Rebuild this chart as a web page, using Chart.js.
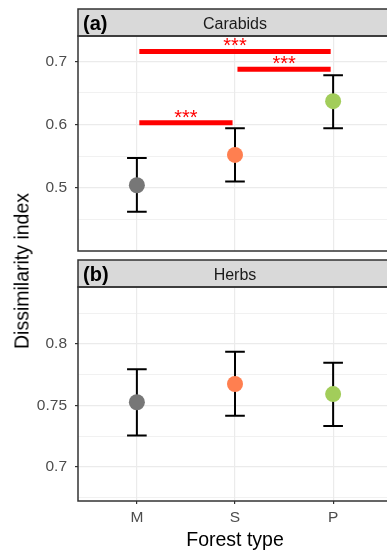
<!DOCTYPE html>
<html>
<head>
<meta charset="utf-8">
<script src="https://cdn.jsdelivr.net/npm/chart.js@4.4.1/dist/chart.umd.min.js"></script>
<style>
  body { margin: 0; background: #fff; overflow: hidden; }
  #wrap { position: relative; width: 400px; height: 550px; }
  .panel { position: absolute; left: 0; width: 400px; }
  #ytitle {
    position: absolute; left: 22px; top: 271px; white-space: nowrap;
    font: 19.5px "Liberation Sans", Arial, sans-serif; color: #000;
    transform: translate(-50%, -50%) rotate(-90deg);
  }
</style>
</head>
<body>
<div id="wrap">
  <div class="panel" style="top:0;height:255px"><canvas id="carabids"></canvas></div>
  <div class="panel" style="top:255px;height:295px"><canvas id="herbs"></canvas></div>
  <div id="ytitle">Dissimilarity index</div>
</div>
<script>
// data
const forestTypes = ["M", "S", "P"];
const forestX = [1, 2, 3];

const carabidMean = [0.504, 0.552, 0.637];
const carabidLower = [0.462, 0.510, 0.594];
const carabidUpper = [0.547, 0.594, 0.678];

const herbMean = [0.7525, 0.7674, 0.7592];
const herbLower = [0.7255, 0.7416, 0.7331];
const herbUpper = [0.7795, 0.7937, 0.7848];

// significance brackets in the carabid panel
const sigFrom = [1, 1, 2];
const sigTo = [2, 3, 3];
const sigY = [0.603, 0.7155, 0.6875];
const sigLabel = ["***", "***", "***"];

const carabidTicks = [0.45, 0.5, 0.55, 0.6, 0.65, 0.7];
const carabidMajor = [0.5, 0.6, 0.7];
const herbTicks = [0.675, 0.7, 0.725, 0.75, 0.775, 0.8, 0.825];
const herbMajor = [0.7, 0.75, 0.8];

const pointColours = ["#777777", "#FF7F50", "#A2CD5A"];
const FONT = '"Liberation Sans", Arial, sans-serif';
Chart.defaults.font.family = FONT;

const errorSegments = (lower, upper) => {
    let pts = [];
    forestX.forEach((x, i) => {
        pts.push({ x: x, y: lower[i] }, { x: x, y: upper[i] }, { x: x, y: null }); // whisker
        pts.push({ x: x - 0.1, y: upper[i] }, { x: x + 0.1, y: upper[i] }, { x: x, y: null }); // top cap
        pts.push({ x: x - 0.1, y: lower[i] }, { x: x + 0.1, y: lower[i] }, { x: x, y: null }); // bottom cap
    });
    return pts;
};

// no extra room for half labels, the panels are placed by hand
const noPadding = s => {
    s.paddingTop = 0; s.paddingBottom = 0; s.paddingLeft = 0; s.paddingRight = 0;
};

// frame, strip and significance stars drawn on top of the chart area
const panelFrame = {
    id: "panelFrame",
    afterDraw(chart, args, opts) {
        const ctx = chart.ctx;
        const a = chart.chartArea;
        const stripTop = a.top - 27;
        ctx.save();
        ctx.fillStyle = "#D9D9D9";
        ctx.fillRect(a.left, stripTop, a.right - a.left, 27);
        ctx.strokeStyle = "#333333";
        ctx.lineWidth = 1.5;
        ctx.strokeRect(a.left, stripTop, a.right - a.left, 27);
        ctx.strokeRect(a.left, a.top, a.right - a.left, a.bottom - a.top);

        ctx.textBaseline = "middle";
        ctx.fillStyle = "#1A1A1A";
        ctx.textAlign = "center";
        ctx.font = "16px " + FONT;
        ctx.fillText(opts.title, (a.left + a.right) / 2, stripTop + 15.5);
        ctx.fillStyle = "#000";
        ctx.textAlign = "left";
        ctx.font = "bold 20px " + FONT;
        ctx.fillText(opts.tag, a.left + 5, stripTop + 15.5);

        if (opts.stars) {
            const xs = chart.scales.x, ys = chart.scales.y;
            ctx.fillStyle = "#FF0000";
            ctx.textAlign = "center";
            ctx.textBaseline = "alphabetic";
            ctx.font = "20px " + FONT;
            sigLabel.forEach((lab, i) => {
                const px = xs.getPixelForValue((sigFrom[i] + sigTo[i]) / 2);
                const py = ys.getPixelForValue(sigY[i]);
                ctx.fillText(lab, px, py + 1);
            });
        }
        ctx.restore();
    }
};

const makePanel = (canvasId, cfg) => {
    let datasets = [{
        data: forestX.map((x, i) => ({ x: x, y: cfg.mean[i] })),
        backgroundColor: pointColours,
        borderWidth: 0,
        pointRadius: 8,
        pointHoverRadius: 8,
        order: 0
    }, {
        data: errorSegments(cfg.lower, cfg.upper),
        showLine: true,
        spanGaps: false,
        borderColor: "#000",
        borderWidth: 2,
        pointRadius: 0,
        order: 2
    }];
    if (cfg.stars) {
        sigFrom.forEach((f, i) => {
            datasets.push({
                data: [{ x: f + 0.025, y: sigY[i] }, { x: sigTo[i] - 0.025, y: sigY[i] }],
                showLine: true,
                borderColor: "#FF0000",
                borderWidth: 5,
                borderCapStyle: "butt",
                pointRadius: 0,
                order: 1
            });
        });
    }

    const major = cfg.major;
    return new Chart(document.getElementById(canvasId), {
        type: "scatter",
        data: { datasets: datasets },
        plugins: [panelFrame],
        options: {
            responsive: true,
            maintainAspectRatio: false,
            animation: false,
            layout: { padding: cfg.padding, autoPadding: false },
            plugins: {
                legend: { display: false },
                tooltip: { enabled: false },
                panelFrame: { title: cfg.title, tag: cfg.tag, stars: cfg.stars }
            },
            scales: {
                x: {
                    type: "linear",
                    min: 0.4,
                    max: 3.6,
                    afterBuildTicks: s => { s.ticks = forestX.map(v => ({ value: v })); },
                    afterFit: s => { s.height = cfg.xHeight; noPadding(s); },
                    border: { display: false },
                    grid: {
                        color: "#EBEBEB",
                        lineWidth: 1.2,
                        drawTicks: cfg.showX,
                        tickLength: 3,
                        tickColor: "#333333",
                        tickWidth: 1.2
                    },
                    ticks: {
                        display: cfg.showX,
                        padding: 4,
                        color: "#4D4D4D",
                        font: { size: 15.5 },
                        callback: (v, i) => forestTypes[i]
                    },
                    title: {
                        display: cfg.showX,
                        text: "Forest type",
                        color: "#000",
                        font: { size: 19.5, lineHeight: 1 },
                        padding: { top: 0, bottom: 0 }
                    }
                },
                y: {
                    min: cfg.min,
                    max: cfg.max,
                    afterBuildTicks: s => { s.ticks = cfg.ticks.map(v => ({ value: v })); },
                    afterFit: s => { s.width = 78; noPadding(s); },
                    border: { display: false },
                    grid: {
                        color: "#EBEBEB",
                        lineWidth: c => (c.tick && major.includes(c.tick.value)) ? 1.2 : 0.7,
                        tickLength: 3,
                        tickColor: c => (c.tick && major.includes(c.tick.value)) ? "#333333" : "rgba(0,0,0,0)",
                        tickWidth: 1.2
                    },
                    ticks: {
                        autoSkip: false,
                        padding: 8,
                        color: "#4D4D4D",
                        font: { size: 15.5 },
                        callback: v => major.includes(v) ? String(v) : ""
                    }
                }
            }
        }
    });
};

makePanel("carabids", {
    mean: carabidMean, lower: carabidLower, upper: carabidUpper,
    ticks: carabidTicks, major: carabidMajor, min: 0.40, max: 0.74,
    title: "Carabids", tag: "(a)", stars: true, showX: false, xHeight: 0,
    padding: { top: 36, bottom: 4, left: 0, right: 8 }
});

makePanel("herbs", {
    mean: herbMean, lower: herbLower, upper: herbUpper,
    ticks: herbTicks, major: herbMajor, min: 0.672, max: 0.8465,
    title: "Herbs", tag: "(b)", stars: false, showX: true, xHeight: 49,
    padding: { top: 32, bottom: 0, left: 0, right: 8 }
});
</script>
</body>
</html>
